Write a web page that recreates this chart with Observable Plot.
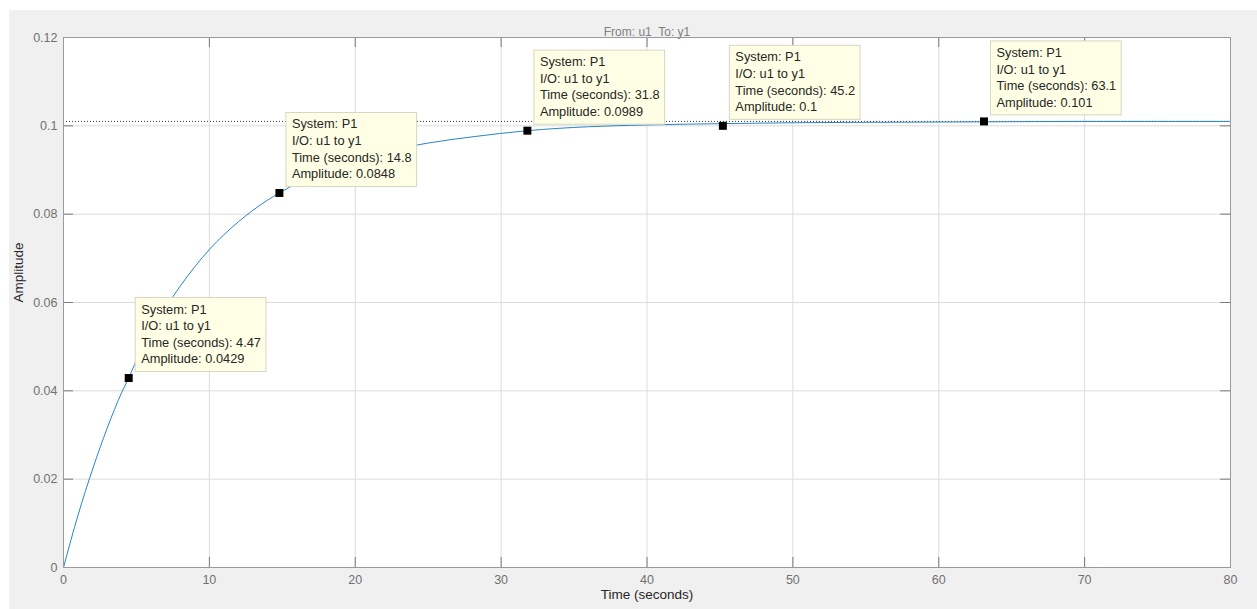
<!DOCTYPE html>
<html>
<head>
<meta charset="utf-8">
<script src="https://cdn.jsdelivr.net/npm/d3@7"></script>
<script src="https://cdn.jsdelivr.net/npm/@observablehq/plot@0.6"></script>
<style>
  html, body { margin: 0; padding: 0; background: #ffffff; }
  #wrap { padding-left: 9px; padding-top: 10px; }
  #wrap svg { background: #f0f0f0; display: block; }
</style>
</head>
<body>
<div id="wrap"></div>
<script>
// Step response samples
const time = [0, 1, 2, 3, 4, 4.47, 5, 6, 7, 8, 10, 12, 14, 14.8, 16, 18, 20, 22, 25, 28, 31.8, 36, 40, 45.2, 50, 55, 63.1, 70, 80];
const amplitude = [0, 0.0119, 0.0223, 0.0316, 0.0397, 0.0429, 0.0469, 0.0532, 0.0588, 0.0637, 0.0720, 0.0783, 0.0832, 0.0848, 0.0870, 0.0900, 0.0923, 0.0941, 0.0961, 0.0975, 0.0989, 0.0998, 0.1002, 0.1005, 0.1007, 0.1008, 0.1009, 0.1010, 0.1010];

// Data tips
const tipTime = ["4.47", "14.8", "31.8", "45.2", "63.1"];
const tipAmp = ["0.0429", "0.0848", "0.0989", "0.1", "0.101"];
const tipSystem = "P1";
const tipIO = "u1 to y1";

// Steady-state value (dotted line)
const steady = [0.101];

// Ticks
const xTicks = [0, 10, 20, 30, 40, 50, 60, 70, 80];
const yTicks = [0, 0.02, 0.04, 0.06, 0.08, 0.1, 0.12];

const titleText = "From: u1  To: y1";
const xLabel = "Time (seconds)";
const yLabel = "Amplitude";

const line = time.map((t, i) => ({t, a: amplitude[i]}));
const tips = tipTime.map((t, i) => ({t: +t, a: +tipAmp[i], ts: t, as: tipAmp[i]}));

const W = 1248, H = 599;
const mL = 54, mT = 27, mR = 27, mB = 42;
const plotW = W - mL - mR, plotH = H - mT - mB;
const FONT = "'Liberation Sans', Arial, Helvetica, sans-serif";
const TIPFS = 12.8;

function tipBoxes(index, scales) {
  const g = d3.create("svg:g");
  const ctx = document.createElement("canvas").getContext("2d");
  ctx.font = TIPFS + "px " + FONT;
  tips.forEach(d => {
    const px = scales.x(d.t), py = scales.y(d.a);
    const lines = [
      "System: " + tipSystem,
      "I/O: " + tipIO,
      "Time (seconds): " + d.ts,
      "Amplitude: " + d.as
    ];
    const w = Math.max(...lines.map(l => ctx.measureText(l).width)) + 11;
    const h = 74;
    const x0 = px + 7, y0 = py - 6 - h;
    g.append("rect")
      .attr("x", x0).attr("y", y0).attr("width", w).attr("height", h)
      .attr("fill", "#ffffe5").attr("stroke", "#d6d6c2").attr("stroke-width", 1);
    lines.forEach((l, j) => {
      g.append("text")
        .attr("x", x0 + 6).attr("y", y0 + 16 + j * 16.6)
        .attr("text-anchor", "start")
        .attr("font-family", FONT).attr("font-size", TIPFS)
        .attr("fill", "#262626")
        .text(l);
    });
  });
  return g.node();
}

const chart = Plot.plot({
  width: W,
  height: H,
  marginLeft: mL,
  marginTop: mT,
  marginRight: mR,
  marginBottom: mB,
  style: {fontFamily: FONT, fontSize: "12px", background: "#f0f0f0"},
  x: {domain: [0, 80], axis: null},
  y: {domain: [0, 0.12], axis: null},
  marks: [
    Plot.frame({fill: "white", stroke: null}),
    Plot.gridX(xTicks, {stroke: "#dcdcdc", strokeOpacity: 1}),
    Plot.gridY(yTicks, {stroke: "#dcdcdc", strokeOpacity: 1}),
    // inward ticks
    Plot.tickX(xTicks, {x: d => d, insetTop: plotH - 10, stroke: "#7a7a7a"}),
    Plot.tickX(xTicks, {x: d => d, insetBottom: plotH - 10, stroke: "#7a7a7a"}),
    Plot.tickY(yTicks, {y: d => d, insetRight: plotW - 10, stroke: "#7a7a7a"}),
    Plot.tickY(yTicks, {y: d => d, insetLeft: plotW - 10, stroke: "#7a7a7a"}),
    Plot.axisX(xTicks, {anchor: "bottom", tickSize: 0, tickPadding: 8, label: null, fill: "#707070", fontSize: 12.5, tickFormat: d => String(d)}),
    Plot.axisY(yTicks, {anchor: "left", tickSize: 0, tickPadding: 6, label: null, fill: "#707070", fontSize: 12.5, tickFormat: d => String(d)}),
    Plot.ruleY(steady, {stroke: "#000", strokeWidth: 0.8, strokeDasharray: "1,2"}),
    Plot.line(line, {x: "t", y: "a", stroke: "#2a84c6", strokeWidth: 1, curve: "monotone-x"}),
    tipBoxes,
    Plot.dot(tips, {x: "t", y: "a", symbol: "square", r: 4.5, fill: "#000", stroke: null}),
    Plot.frame({stroke: "#9a9a9a"}),
    Plot.text([titleText], {frameAnchor: "top", dy: -10, fill: "#7f7f7f", fontSize: 12}),
    Plot.text([xLabel], {frameAnchor: "bottom", dy: 31, fill: "#262626", fontSize: 13.5}),
    Plot.text([yLabel], {frameAnchor: "left", dx: -45, rotate: -90, fill: "#262626", fontSize: 13.5})
  ]
});

document.getElementById("wrap").appendChild(chart);
</script>
</body>
</html>
